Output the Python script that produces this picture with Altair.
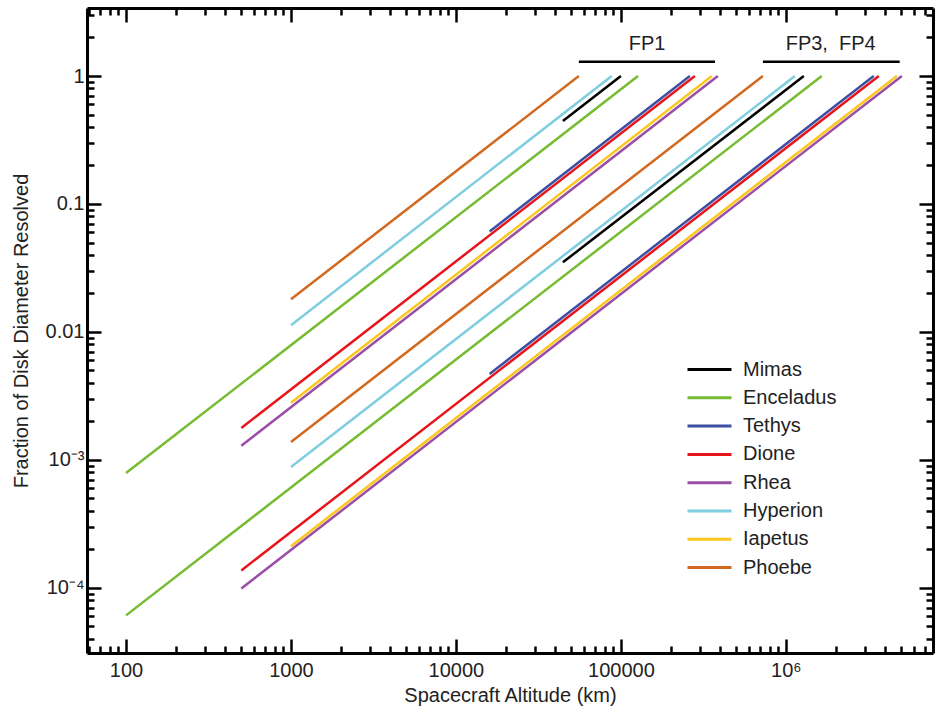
import altair as alt
import pandas as pd

# ---------------- data ----------------
moons = ["Mimas", "Enceladus", "Tethys", "Dione", "Rhea", "Hyperion", "Iapetus", "Phoebe"]
colors = ["#000000", "#76bc30", "#3d4fa3", "#e8141b", "#9a4ea6", "#7ecde0", "#fcc61d", "#d2691f"]

# FP1 segments (altitude km, fraction of disk diameter resolved)
fp1_alt_start = [44500, 100, 16000, 500, 500, 1000, 1000, 1000]
fp1_alt_end = [100000, 127000, 262000, 281000, 387000, 88000, 356000, 55600]
fp1_frac_start = [0.445, 0.00079, 0.061, 0.00178, 0.00129, 0.0113, 0.0028, 0.018]
fp1_frac_end = [1, 1, 1, 1, 1, 1, 1, 1]

# FP3, FP4 segments
fp34_alt_start = [44500, 100, 16000, 500, 500, 1000, 1000, 1000]
fp34_alt_end = [1285000, 1650000, 3410000, 3660000, 5050000, 1135000, 4710000, 726000]
fp34_frac_start = [0.035, 0.000061, 0.0047, 0.000137, 0.000099, 0.00088, 0.000212, 0.00138]
fp34_frac_end = [1, 1, 1, 1, 1, 1, 1, 1]

# instrument group annotations
group_labels = ["FP1", "FP3,\u00a0 FP4"]
group_bar_start = [55600, 726000]
group_bar_end = [372000, 4900000]
group_bar_frac = [1.29, 1.29]
group_label_alt = [144000, 1870000]
group_label_frac = [1.78, 1.78]

# axis ticks
x_major = [100, 1000, 10000, 100000, 1000000]
x_minor = [m * 10 ** e for e in range(1, 7) for m in range(2, 10) if 58 <= m * 10 ** e <= 7.8e6]
y_major = [1e-4, 1e-3, 1e-2, 1e-1, 1]
y_minor = [m * 10.0 ** e for e in range(-5, 1) for m in range(2, 10) if 3.1e-5 <= m * 10.0 ** e <= 3.4]

# ---------------- tables ----------------
draw_order = ["Enceladus", "Hyperion", "Phoebe", "Rhea", "Iapetus", "Tethys", "Dione", "Mimas"]


def seg_table(a0, a1, f0, f1, tag):
    rows = []
    for name in draw_order:
        i = moons.index(name)
        rows.append({"moon": name, "seg": f"{tag}-{name}", "alt": a0[i], "frac": f0[i], "o": 0})
        rows.append({"moon": name, "seg": f"{tag}-{name}", "alt": a1[i], "frac": f1[i], "o": 1})
    return pd.DataFrame(rows)


df1 = seg_table(fp1_alt_start, fp1_alt_end, fp1_frac_start, fp1_frac_end, "fp1")
df34 = seg_table(fp34_alt_start, fp34_alt_end, fp34_frac_start, fp34_frac_end, "fp34")
bars = pd.DataFrame({"a0": group_bar_start, "a1": group_bar_end, "f": group_bar_frac})
labels = pd.DataFrame({"a": group_label_alt, "f": group_label_frac, "t": group_labels})

FONT = "Liberation Sans"
TXT = "#222222"
FS = 20

xscale = alt.Scale(type="log", domain=[58, 7.8e6], nice=False)
yscale = alt.Scale(type="log", domain=[3.1e-5, 3.4], nice=False)


def axis(orient, values, size, **kw):
    base = dict(orient=orient, values=values, tickSize={"expr": str(-size)}, tickWidth=2.5,
                tickColor="black", grid=False, domain=False)
    base.update(kw)
    if "labels" not in kw:
        base["labels"] = False
    if "title" not in kw:
        base["title"] = None
    return alt.Axis(**base)


x_lab = ("datum.value >= 999999 ? '10\u2076' : format(datum.value, 'd')")
y_lab = ("datum.value >= 0.009 ? format(datum.value, '') : "
         "(datum.value > 0.0005 ? '10\u207b\u00b3' : '10\u207b\u2074')")

legend = alt.Legend(title=None, orient="none", legendX=610, legendY=349,
                    symbolType="M-2,0H2", symbolSize=484, symbolStrokeWidth=3,
                    labelFontSize=FS, labelFont=FONT, labelColor=TXT, labelOffset=21,
                    rowPadding=5.3)
color = alt.Color("moon:N", scale=alt.Scale(domain=moons, range=colors), legend=legend)

frame = dict(domain=True, domainColor="black", domainWidth=3)

l1 = alt.Chart(df1).mark_line(strokeWidth=2.5).encode(
    x=alt.X("alt:Q", scale=xscale,
            axis=axis("bottom", x_major, 14, labels=True, labelExpr=x_lab, labelFontSize=FS,
                      labelFont=FONT, labelColor=TXT, labelPadding=21,
                      title="Spacecraft Altitude (km)", titleFontSize=FS, titleFont=FONT,
                      titleColor=TXT, titleFontWeight="normal", titlePadding=5, **frame)),
    y=alt.Y("frac:Q", scale=yscale,
            axis=axis("left", y_major, 14, labels=True, labelExpr=y_lab, labelFontSize=FS,
                      labelFont=FONT, labelColor=TXT, labelPadding=17,
                      title="Fraction of Disk Diameter Resolved", titleFontSize=FS,
                      titleFont=FONT, titleColor=TXT, titleFontWeight="normal",
                      titlePadding=14, **frame)),
    color=color,
    detail="seg:N",
    order="o:Q",
)

l2 = alt.Chart(df34).mark_line(strokeWidth=2.5).encode(
    x=alt.X("alt:Q", scale=xscale, axis=axis("bottom", x_minor, 7)),
    y=alt.Y("frac:Q", scale=yscale, axis=axis("left", y_minor, 7)),
    color=color,
    detail="seg:N",
    order="o:Q",
)

l3 = alt.Chart(bars).mark_rule(color="black", strokeWidth=2.5).encode(
    x=alt.X("a0:Q", scale=xscale, axis=axis("top", x_major, 14, **frame)),
    x2="a1:Q",
    y=alt.Y("f:Q", scale=yscale, axis=axis("right", y_major, 14, **frame)),
)

l4 = alt.Chart(labels).mark_text(font=FONT, fontSize=20, color=TXT).encode(
    x=alt.X("a:Q", scale=xscale, axis=axis("top", x_minor, 7)),
    y=alt.Y("f:Q", scale=yscale, axis=axis("right", y_minor, 7)),
    text="t:N",
)

chart = (
    alt.layer(l1, l2, l3, l4)
    .resolve_scale(x="shared", y="shared", color="shared")
    .resolve_axis(x="independent", y="independent")
    .properties(width=846, height=645, autosize=alt.AutoSizeParams(type="none"),
                padding={"left": 87, "top": 8, "right": 2, "bottom": 58})
    .configure_view(strokeWidth=0)
    .configure(font=FONT, background="white")
)

chart.save("out.html", embed_options={"renderer": "svg", "actions": False})
